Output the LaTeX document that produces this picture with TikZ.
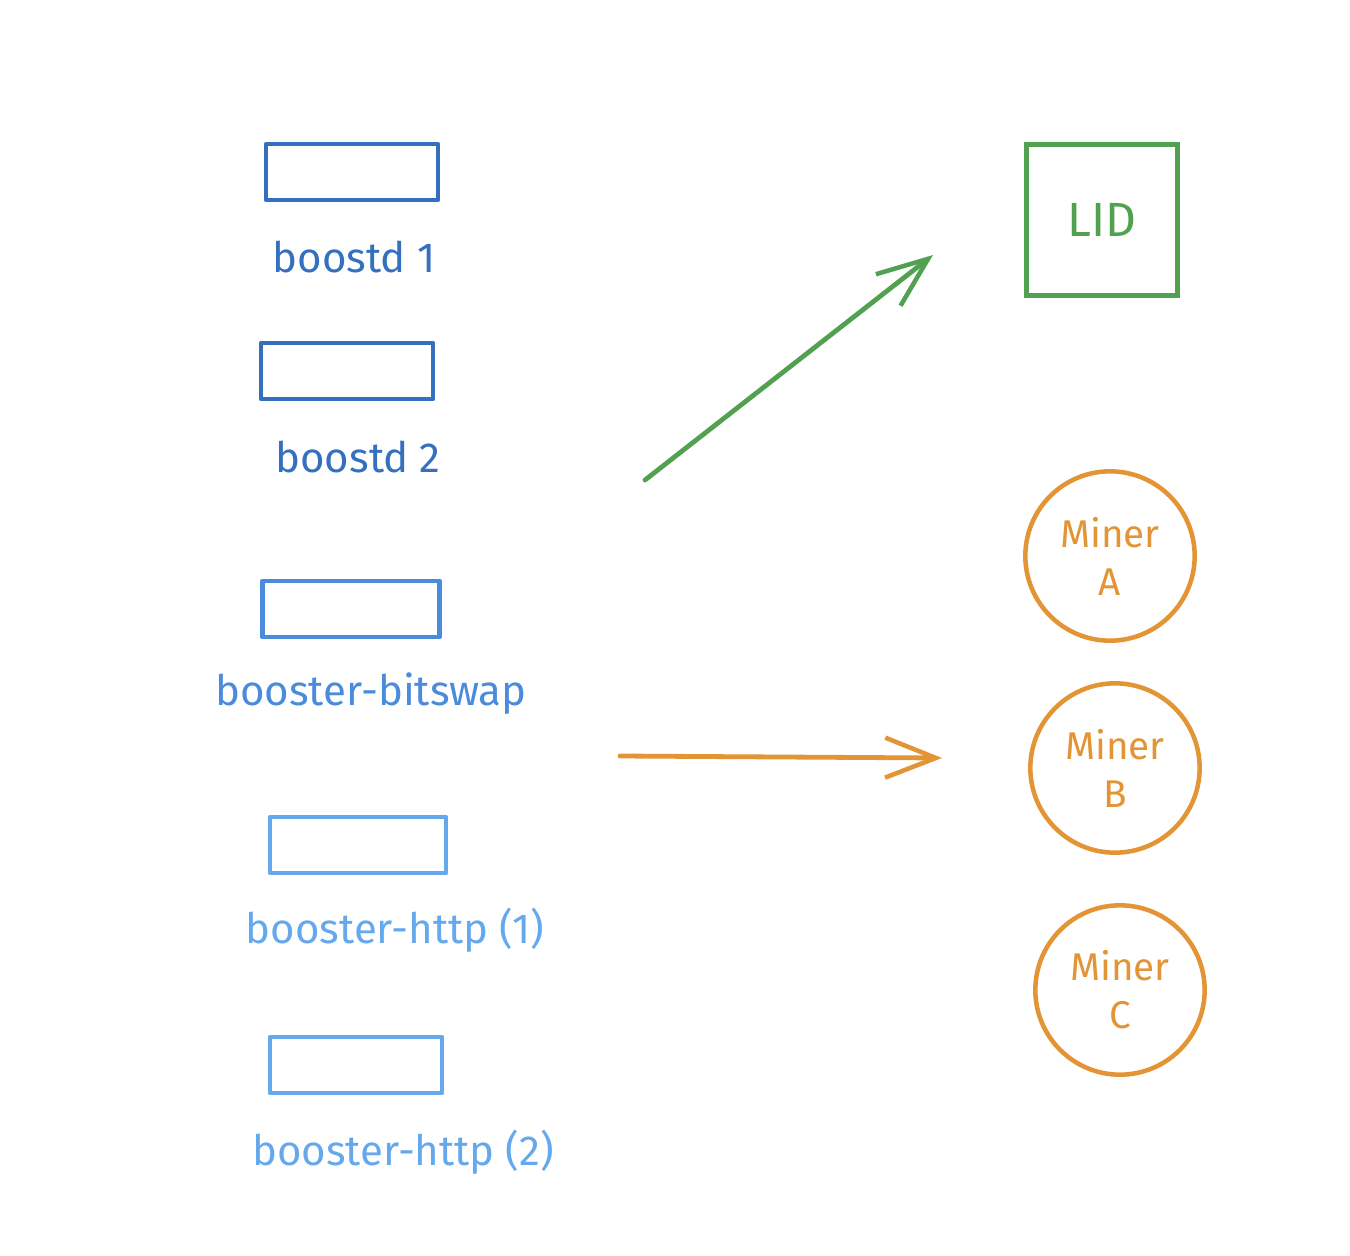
\documentclass[tikz,border=0pt]{standalone}
\usepackage{fontspec}
\setmainfont{Fira Sans}
\usetikzlibrary{arrows.meta}
\definecolor{bdark}{HTML}{3470BD}
\definecolor{bmid}{HTML}{4A8BDB}
\definecolor{blight}{HTML}{66A8EE}
\definecolor{lgreen}{HTML}{52A150}
\definecolor{morange}{HTML}{E39536}
\tikzset{
  box/.style={draw, line width=3.6pt, minimum width=129pt, minimum height=42pt, inner sep=0pt, line join=round},
  lbl/.style={font=\fontsize{31.5}{33}\selectfont, inner sep=0pt, anchor=center},
  miner/.style={draw=morange, circle, line width=3.4pt, minimum size=127pt, inner sep=0pt, text=morange, align=center, font=\fontsize{29}{36}\selectfont},
  conn/.style={line width=3.6pt, line cap=round, -{Straight Barb[length=38pt,width=30pt,line width=3.4pt]}}
}
\begin{document}
\begin{tikzpicture}[x=0.75pt,y=-0.75pt]
\useasboundingbox (0,0) rectangle (1350,1256);
% left column boxes
\node[box, draw=bdark] (b1) at (352,172) {};
\node[lbl, text=bdark] (l1) at (354,257) {boostd 1};
\node[box, draw=bdark] (b2) at (347,371) {};
\node[lbl, text=bdark] (l2) at (358,457) {boostd 2};
\node[box, draw=bmid, minimum width=133pt] (b3) at (351,609) {};
\node[lbl, text=bmid] (l3) at (371,694) {booster-bitswap};
\node[box, draw=blight, minimum width=132pt] (b4) at (358,845) {};
\node[lbl, text=blight] (l4) at (395,930) {booster-http (1)};
\node[box, draw=blight] (b5) at (356,1065) {};
\node[lbl, text=blight] (l5) at (403,1152) {booster-http (2)};
% right column
\node[draw=lgreen, line width=3.6pt, minimum size=113pt, inner sep=0pt, text=lgreen, font=\fontsize{36}{38}\selectfont] (lid) at (1102,220) {LID};
\node[miner] (ma) at (1110,556) {Miner\\A};
\node[miner] (mb) at (1115,768) {Miner\\B};
\node[miner] (mc) at (1120,990) {Miner\\C};
% arrows
\coordinate (g0) at (645,480);
\coordinate (g1) at (933,255);
\coordinate (o0) at (620,756);
\coordinate (o1) at (942,758);
\draw[conn, lgreen] (g0) -- (g1);
\draw[conn, morange] (o0) -- (o1);
\end{tikzpicture}
\end{document}
